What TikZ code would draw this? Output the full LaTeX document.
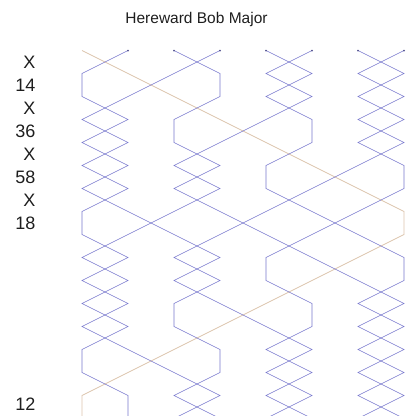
\documentclass[tikz,border=0pt]{standalone}
\usepackage{fontspec}
\setmainfont{Liberation Sans}
\definecolor{workblue}{RGB}{118,118,205}
\definecolor{treblered}{RGB}{220,196,172}
\definecolor{labelgrey}{RGB}{30,30,30}

\begin{document}
\begin{tikzpicture}[x=1pt,y=1pt,
  workline/.style={workblue, line width=0.6pt},
  trebleline/.style={treblered, line width=0.7pt},
  notation/.style={anchor=east, inner sep=0pt, text=labelgrey, font=\fontsize{18}{18}\selectfont}]

% the page, the last row falls just below it
\useasboundingbox (0,0) rectangle (412,-416);
\clip (0,0) rectangle (412,-416);

\node[text=labelgrey, font=\fontsize{15.5}{15.5}\selectfont] (title) at (196.5,-19) {Hereward Bob Major};

% place notation of the first half lead and the lead end
\foreach \pn [count=\k from 0] in {X,14,X,36,X,58,X,18}
  \node[notation] (pn\k) at (35.5,{-50.5-23*(\k+0.5)}) {\pn};
\node[notation] (pn15) at (35.5,-404) {12};

%% we draw the lines of the bells over one lead
\begin{scope}[shift={(36,-50.5)}, x=46pt, y=-23pt]
% the treble goes first, behind the others
\draw[trebleline] (1,0) \foreach \p [count=\r] in {2,3,4,5,6,7,8,8,7,6,5,4,3,2,1,1} {-- (\p,\r)};

% the working bells: start place / places in the rows after it
\foreach \start/\rest in {
  2/{1,1,2,1,2,1,2,3,4,3,4,5,6,5,6,5},
  3/{4,4,3,3,4,3,4,5,6,7,8,7,8,7,8,7},
  4/{3,2,1,2,1,2,1,1,2,1,2,1,2,3,4,3},
  5/{6,5,6,6,5,5,6,7,8,8,7,8,7,8,7,8},
  6/{5,6,5,4,3,4,3,2,1,2,1,2,1,1,2,2},
  7/{8,7,8,7,8,8,7,6,5,5,6,6,5,6,5,6},
  8/{7,8,7,8,7,6,5,4,3,4,3,3,4,4,3,4}}
{
  \draw[workline] (\start,0) \foreach \p [count=\r] in \rest {-- (\p,\r)};
  \fill[workblue!70!black] (\start,0) circle (1pt);
}
\end{scope}

\end{tikzpicture}
\end{document}
